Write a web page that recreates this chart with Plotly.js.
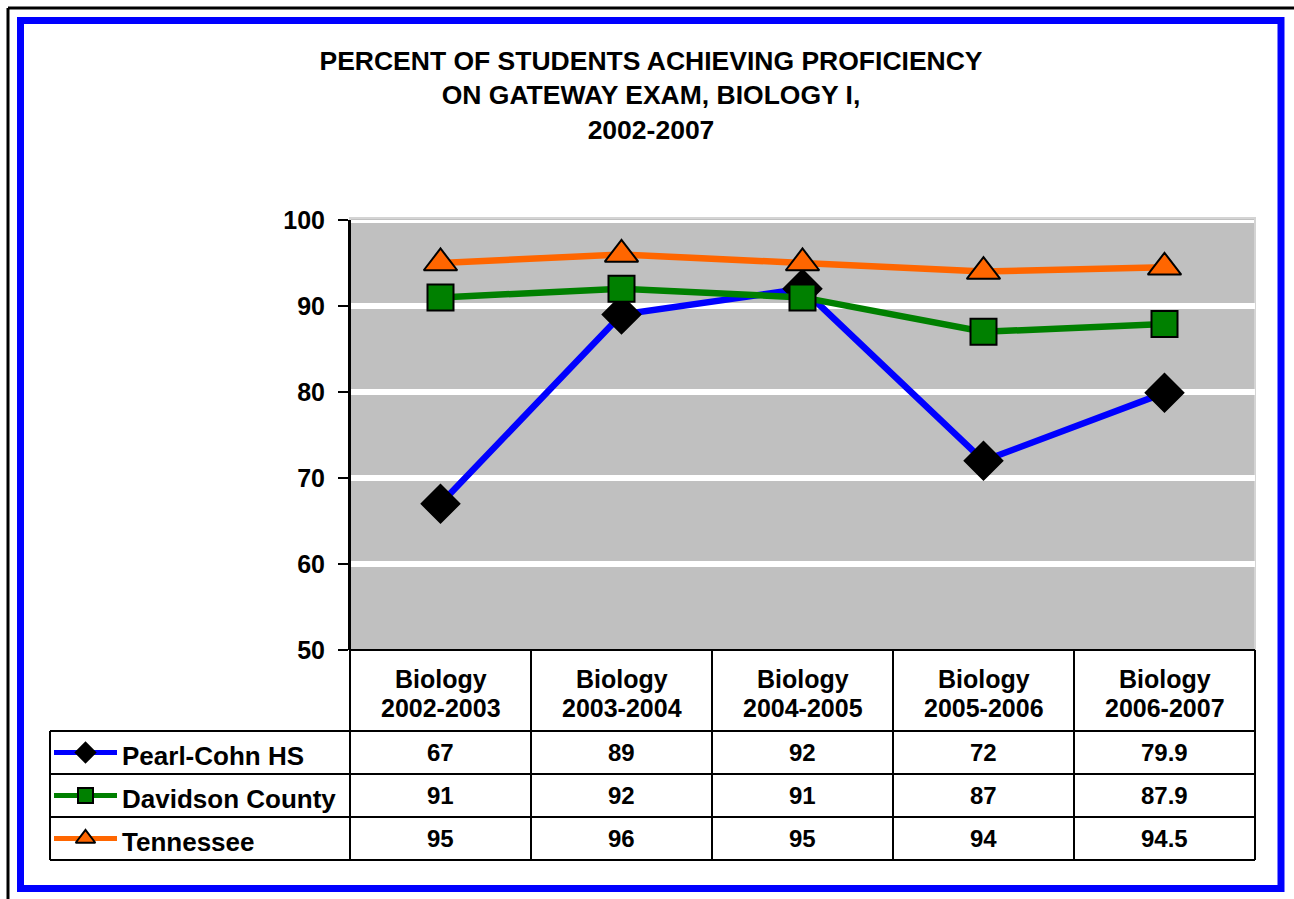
<!DOCTYPE html>
<html>
<head>
<meta charset="utf-8">
<script src="https://cdn.plot.ly/plotly-3.0.1.min.js"></script>
<style>html,body{margin:0;padding:0;background:#fff;}#chart{width:1294px;height:899px;}</style>
</head>
<body>
<div id="chart"></div>
<script>
// ---------- data ----------
const headerTop = 'Biology';
const headerYears = ['2002-2003', '2003-2004', '2004-2005', '2005-2006', '2006-2007'];
const categories = headerYears.map(y => headerTop + ' ' + y);
const seriesNames = ['Pearl-Cohn HS', 'Davidson County', 'Tennessee'];
const pearlCohn = [67, 89, 92, 72, 79.9];
const davidson = [91, 92, 91, 87, 87.9];
const tennessee = [95, 96, 95, 94, 94.5];
const yTicks = [50, 60, 70, 80, 90, 100];
const titleLines = ['PERCENT OF STUDENTS ACHIEVING PROFICIENCY', 'ON GATEWAY EXAM, BIOLOGY I,', '2002-2007'];

// ---------- layout geometry (pixels) ----------
const W = 1294, H = 899;
const px = v => v / W;
const py = v => 1 - v / H;
const plotL = 350, plotR = 1255, plotT = 220, plotB = 650;
const tableL = 50, headerB = 731, rowH = 43;
const FONT = '"Liberation Sans", Arial, Helvetica, sans-serif';

const styles = [
  {line: '#0000FF', symbol: 'diamond', fill: '#000000', size: 29, lsize: 15},
  {line: '#008000', symbol: 'square', fill: '#008000', size: 26, lsize: 15},
  {line: '#FF6600', symbol: 'triangle-up', fill: '#FF6600', size: 29, lsize: 17}
];
const allSeries = [pearlCohn, davidson, tennessee];

const traces = [];
allSeries.forEach((vals, i) => {
  const s = styles[i];
  traces.push({
    type: 'scatter', mode: 'lines+markers', name: seriesNames[i],
    x: categories, y: vals, xaxis: 'x', yaxis: 'y',
    line: {color: s.line, width: 6.5},
    marker: {symbol: s.symbol, size: s.size, color: s.fill, line: {color: '#000', width: 2}},
    cliponaxis: false, showlegend: false, hoverinfo: 'x+y+name'
  });
});
// legend keys inside the table
allSeries.forEach((vals, i) => {
  const s = styles[i];
  traces.push({
    type: 'scatter', mode: 'lines+markers', name: seriesNames[i] + ' key',
    x: [0, 0.5, 1], y: [i, i, i], xaxis: 'x2', yaxis: 'y2',
    line: {color: s.line, width: 5},
    marker: {symbol: s.symbol, size: s.lsize, color: s.fill, opacity: [0, 1, 0], line: {color: '#000', width: 2}},
    cliponaxis: false, showlegend: false, hoverinfo: 'skip'
  });
});

const shapes = [];
const annotations = [];
const black = {color: '#000', width: 2};
function hline(x0, x1, y) { shapes.push({type: 'line', xref: 'paper', yref: 'paper', x0: px(x0), x1: px(x1), y0: py(y), y1: py(y), line: black, layer: 'above'}); }
function vline(x, y0, y1) { shapes.push({type: 'line', xref: 'paper', yref: 'paper', x0: px(x), x1: px(x), y0: py(y0), y1: py(y1), line: black, layer: 'above'}); }

// plot area background (below gridlines)
shapes.push({type: 'rect', xref: 'paper', yref: 'paper', x0: px(plotL), x1: px(plotR), y0: py(plotB), y1: py(plotT - 2), fillcolor: '#C0C0C0', line: {color: '#d4d4d4', width: 2}, layer: 'below'});
// thin white line at the top edge of the plot
shapes.push({type: 'line', xref: 'paper', yref: 'paper', x0: px(plotL), x1: px(plotR - 1), y0: py(plotT + 1.5), y1: py(plotT + 1.5), line: {color: '#fff', width: 3}, layer: 'below'});

// outer frames
shapes.push({type: 'line', xref: 'paper', yref: 'paper', x0: px(8), x1: px(8), y0: py(899), y1: py(8), line: {color: '#000', width: 3}});
shapes.push({type: 'line', xref: 'paper', yref: 'paper', x0: px(8), x1: px(1294), y0: py(8), y1: py(8), line: {color: '#000', width: 3}});
shapes.push({type: 'rect', xref: 'paper', yref: 'paper', x0: px(20.5), x1: px(1281), y0: py(888.5), y1: py(20.5), line: {color: '#0000FF', width: 7}});

// table grid
const nCols = categories.length;
const colW = (plotR - plotL) / nCols;
const nRows = seriesNames.length;
const tableB = headerB + rowH * nRows;
hline(plotL, plotR, plotB);
for (let r = 0; r <= nRows; r++) hline(tableL, plotR, headerB + r * rowH);
vline(tableL, headerB, tableB);
vline(plotL, plotT, tableB);
for (let c = 1; c <= nCols; c++) vline(plotL + c * colW, plotB, tableB);

// header text
categories.forEach((cat, c) => {
  annotations.push({xref: 'x', yref: 'paper', x: cat, y: py(679), text: '<b>' + headerTop + '</b>', showarrow: false, xanchor: 'center', yanchor: 'middle', font: {family: FONT, size: 25, color: '#000'}});
  annotations.push({xref: 'x', yref: 'paper', x: cat, y: py(708), text: '<b>' + headerYears[c] + '</b>', showarrow: false, xanchor: 'center', yanchor: 'middle', font: {family: FONT, size: 25, color: '#000'}});
});
// values and legend labels
allSeries.forEach((vals, r) => {
  const yc = headerB + rowH * (r + 0.5);
  vals.forEach((v, c) => {
    annotations.push({xref: 'x', yref: 'paper', x: categories[c], y: py(yc), text: '<b>' + String(v) + '</b>', showarrow: false, xanchor: 'center', yanchor: 'middle', font: {family: FONT, size: 24, color: '#000'}});
  });
  annotations.push({xref: 'paper', yref: 'paper', x: px(120), y: py(yc + 3), text: '<b>' + seriesNames[r] + '</b>', showarrow: false, xanchor: 'left', yanchor: 'middle', font: {family: FONT, size: 26, color: '#000'}});
});

const layout = {
  width: W, height: H,
  margin: {l: 0, r: 0, t: 0, b: 0, pad: 0},
  paper_bgcolor: '#fff', plot_bgcolor: 'rgba(0,0,0,0)',
  font: {family: FONT, color: '#000'},
  showlegend: false,
  title: {text: '<b>' + titleLines.join('<br>') + '</b>', x: px(651), xanchor: 'center', y: py(70), yanchor: 'middle', font: {family: FONT, size: 26.5, color: '#000'}},
  xaxis: {domain: [px(plotL), px(plotR)], type: 'category', range: [-0.5, nCols - 0.5], showgrid: false, zeroline: false, showline: false, showticklabels: false, ticks: '', fixedrange: true, anchor: 'y'},
  yaxis: {domain: [py(plotB), py(plotT)], range: [50, 100], tickvals: yTicks, ticktext: yTicks.map(t => '<b>' + t + '</b>'),
    showgrid: true, gridcolor: '#FFFFFF', gridwidth: 6, zeroline: false,
    showline: true, linecolor: '#000', linewidth: 2, ticks: 'outside', ticklen: 10, tickwidth: 2, tickcolor: '#000',
    ticklabelstandoff: 8, tickfont: {family: FONT, size: 25, color: '#000'}, fixedrange: true, anchor: 'x'},
  xaxis2: {domain: [px(54), px(117)], range: [0, 1], visible: false, anchor: 'y2', fixedrange: true},
  yaxis2: {domain: [py(tableB), py(headerB)], range: [nRows - 0.5, -0.5], visible: false, anchor: 'x2', fixedrange: true},
  shapes: shapes,
  annotations: annotations
};

Plotly.newPlot('chart', traces, layout, {displayModeBar: false, staticPlot: true});
</script>
</body>
</html>
